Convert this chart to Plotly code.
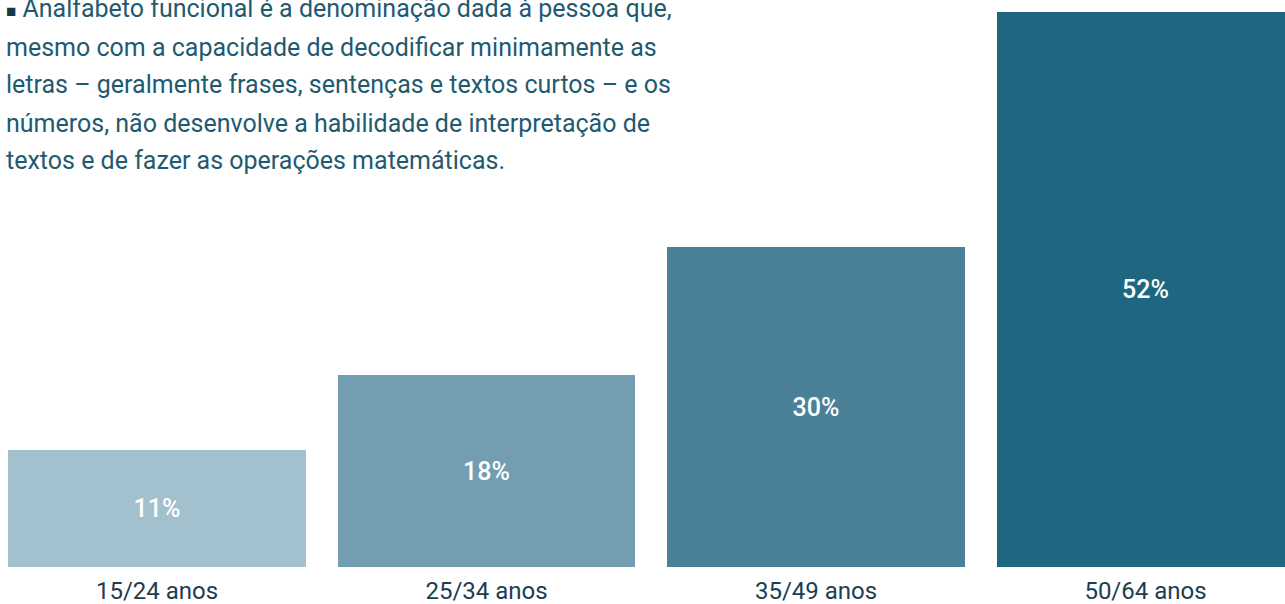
import plotly.graph_objects as go

# dados
faixas = ["15/24 anos", "25/34 anos", "35/49 anos", "50/64 anos"]
percentuais = [11, 18, 30, 52]
rotulos = ["11%", "18%", "30%", "52%"]
cores = ["#a3c0ce", "#739eb2", "#4a8199", "#1f6681"]

texto_linhas = [
    "<span style='font-size:17px;color:#17384a'>■</span> Analfabeto funcional é a denominação dada à pessoa que,",
    "mesmo com a capacidade de decodificar minimamente as",
    "letras – geralmente frases, sentenças e textos curtos – e os",
    "números, não desenvolve a habilidade de interpretação de",
    "textos e de fazer as operações matemáticas.",
]

W, H = 1285, 604
plot_h = 567  # altura da área do gráfico em px

fig = go.Figure()
fig.add_trace(
    go.Bar(
        x=list(range(len(faixas))),
        y=percentuais,
        width=0.904,
        marker=dict(color=cores, line=dict(width=0)),
        text=rotulos,
        textposition="inside",
        insidetextanchor="middle",
        textfont=dict(family="Roboto", size=25, color="white", weight=500),
        hoverinfo="skip",
        showlegend=False,
    )
)

# parágrafo explicativo, uma anotação por linha
for i, linha in enumerate(texto_linhas):
    y_px = 9 + i * 38
    fig.add_annotation(
        text=linha,
        xref="paper", yref="paper",
        x=4 / W, y=1 - y_px / plot_h,
        xanchor="left", yanchor="middle",
        showarrow=False,
        align="left",
        font=dict(family="Roboto", size=25, color="#1f5a70"),
    )

fig.update_layout(
    width=W,
    height=H,
    margin=dict(l=0, r=0, t=0, b=H - plot_h),
    paper_bgcolor="white",
    plot_bgcolor="white",
    bargap=0,
    xaxis=dict(
        range=[-0.4765, 3.4234],
        tickmode="array",
        tickvals=list(range(len(faixas))),
        ticktext=faixas,
        showgrid=False,
        zeroline=False,
        showline=False,
        ticks="",
        ticklabelstandoff=7,
        tickfont=dict(family="Roboto", size=24, color="#1b3e51"),
        automargin=False,
        fixedrange=True,
    ),
    yaxis=dict(
        range=[0, 53.13],
        visible=False,
        fixedrange=True,
    ),
)

fig.write_html(
    "out.html",
    config={"displayModeBar": False},
    post_script="document.body.style.margin='0';",
)
